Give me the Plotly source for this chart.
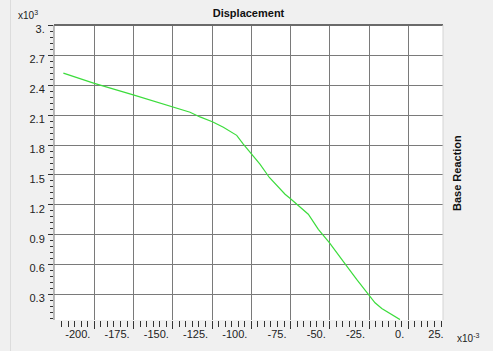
import plotly.graph_objects as go

# ---- data ----
displacement_m = [-0.2197, -0.2000, -0.1752, -0.1497, -0.1390, -0.1327, -0.1248,
                  -0.1178, -0.1093, -0.1051, -0.1000, -0.0945, -0.0885, -0.0828,
                  -0.0785, -0.0752, -0.0701, -0.0637, -0.0615, -0.0573, -0.0503,
                  -0.0435, -0.0392, -0.0329, -0.0248, -0.0212, -0.0169, -0.0053]
base_reaction = [2523, 2420, 2304, 2180, 2130, 2083, 2035, 1979, 1898, 1811,
                 1717, 1609, 1475, 1375, 1307, 1264, 1196, 1106, 1055, 955,
                 821, 670, 585, 451, 293, 217, 159, 48]

x_tick_values = [-200, -175, -150, -125, -100, -75, -50, -25, 0, 25]
x_tick_text = ["-200.", "-175.", "-150.", "-125.", "-100.", "-75.", "-50.", "-25.", "0.", "25."]
y_tick_values = [0.3, 0.6, 0.9, 1.2, 1.5, 1.8, 2.1, 2.4, 2.7, 3.0]
y_tick_text = ["0.3", "0.6", "0.9", "1.2", "1.5", "1.8", "2.1", "2.4", "2.7", "3."]

# ---- layout constants ----
W, H = 493, 351
ML, MR, MT, MB = 54, 50, 25, 31
PW = W - ML - MR
PH = H - MT - MB
XRANGE = [-225.67, 22.1]
YRANGE = [0.044, 3.006]
px_per_x = PW / (XRANGE[1] - XRANGE[0])
FONT = "Liberation Sans, Arial, sans-serif"

x_disp = [d * 1e3 for d in displacement_m]
y_reac = [r / 1e3 for r in base_reaction]

# label positions: right-aligned ~4px left of each major tick (SAP-style)
cw = {"-": 3.66, ".": 3.06}
def text_w(t):
    return sum(cw.get(c, 6.12) for c in t)
x_label_pos = [v - (4 + text_w(t) / 2) / px_per_x for v, t in zip(x_tick_values, x_tick_text)]

x_major = [v for v in x_tick_values if XRANGE[0] < v < XRANGE[1]]
x_minor = []
k = -225.0
step = 25 / 6
while k < XRANGE[1]:
    if XRANGE[0] < k and abs(k / 25 - round(k / 25)) > 1e-6:
        x_minor.append(k)
    k += step
y_minor = []
kk = 0.0
while kk < YRANGE[1]:
    if kk > YRANGE[0] and abs(kk / 0.3 - round(kk / 0.3)) > 1e-6:
        y_minor.append(kk)
    kk += 0.06

fig = go.Figure()
fig.add_trace(go.Scatter(x=x_disp, y=y_reac, mode="lines",
                         line=dict(color="#3cdc3c", width=1.2),
                         hoverinfo="skip", showlegend=False))
# invisible copy on the label axis so that axis gets drawn
fig.add_trace(go.Scatter(x=x_disp, y=y_reac, mode="lines", xaxis="x2", yaxis="y",
                         line=dict(color="rgba(0,0,0,0)", width=0), opacity=0,
                         hoverinfo="skip", showlegend=False))

tickfont = dict(family=FONT, size=11, color="#222222")

fig.update_layout(
    width=W, height=H, autosize=False,
    margin=dict(l=ML, r=MR, t=MT, b=MB, pad=0),
    paper_bgcolor="#f0f0f0", plot_bgcolor="#ffffff",
    showlegend=False,
    title=dict(text="<b>Displacement</b>", x=0.5, xref="paper", xanchor="center",
               y=1 - 13 / H, yref="container", yanchor="middle",
               font=dict(family=FONT, size=11, color="#111111")),
    xaxis=dict(range=XRANGE, tickmode="array", tickvals=x_major, showticklabels=False,
               ticks="outside", ticklen=8, tickwidth=1, tickcolor="#333333",
               showgrid=True, gridcolor="#7a7a7a", gridwidth=1.3,
               zeroline=False, showline=False,
               minor=dict(tickmode="array", tickvals=x_minor, ticks="outside",
                          ticklen=6, tickwidth=1, tickcolor="#333333", showgrid=False)),
    xaxis2=dict(range=XRANGE, overlaying="x", anchor="y", side="bottom",
                tickmode="array", tickvals=x_label_pos, ticktext=x_tick_text,
                ticks="", showgrid=False, zeroline=False, showline=False,
                tickfont=tickfont, ticklabelstandoff=6),
    yaxis=dict(range=YRANGE, tickmode="array", tickvals=y_tick_values, ticktext=y_tick_text,
               ticks="outside", ticklen=5, tickwidth=1, tickcolor="#333333",
               showgrid=True, gridcolor="#7a7a7a", gridwidth=1.3,
               zeroline=False, showline=False, tickfont=tickfont,
               ticklabelshift=4, ticklabelstandoff=1,
               minor=dict(tickmode="array", tickvals=y_minor, ticks="outside",
                          ticklen=3, tickwidth=1, tickcolor="#333333", showgrid=False)),
    shapes=[
        dict(type="line", xref="paper", yref="paper", x0=0, x1=1, y0=1, y1=1,
             line=dict(color="#6a6a6a", width=2)),
        dict(type="line", xref="paper", yref="paper", x0=0, x1=0, y0=0, y1=1,
             line=dict(color="#7a7a7a", width=1)),
        dict(type="line", xref="paper", yref="paper", x0=1, x1=1, y0=0, y1=1,
             line=dict(color="#d4d4d4", width=1)),
        dict(type="line", xref="paper", yref="paper", x0=(10.5 - ML) / PW, x1=(10.5 - ML) / PW,
             y0=-MB / PH, y1=1 + MT / PH, line=dict(color="#dcdcdc", width=1)),
    ],
    annotations=[
        dict(text="x10<sup>3</sup>", xref="paper", yref="paper",
             x=(16 - ML) / PW, y=(PH - (15 - MT)) / PH, xanchor="left", yanchor="middle",
             showarrow=False, font=dict(family=FONT, size=10, color="#222222")),
        dict(text="x10<sup>-3</sup>", xref="paper", yref="paper",
             x=(455 - ML) / PW, y=(PH - (338 - MT)) / PH, xanchor="left", yanchor="middle",
             showarrow=False, font=dict(family=FONT, size=10, color="#222222")),
        dict(text="<b>Base Reaction</b>", xref="paper", yref="paper",
             x=(457 - ML) / PW, y=(PH - (173 - MT)) / PH, xanchor="center", yanchor="middle",
             textangle=-90, showarrow=False, font=dict(family=FONT, size=11, color="#111111")),
    ],
)

fig.write_html("out.html")
